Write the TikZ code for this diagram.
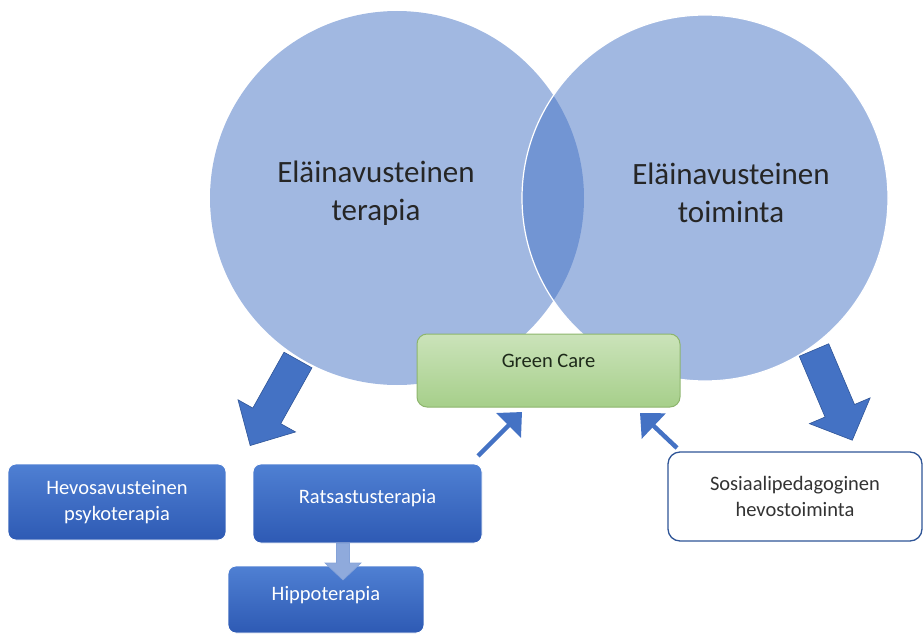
\documentclass[tikz,border=0pt]{standalone}
\usepackage{fontspec}
\setmainfont{Carlito}
\usetikzlibrary{arrows.meta}

\definecolor{accent}{HTML}{4472C4}
\definecolor{accentdark}{HTML}{2F5597}
\definecolor{boxtop}{HTML}{4F80D3}
\definecolor{boxbot}{HTML}{2E5AB4}
\definecolor{greentop}{HTML}{CBE3BA}
\definecolor{greenbot}{HTML}{A6CF8A}
\definecolor{greenline}{HTML}{8DB56D}
\definecolor{greentext}{HTML}{1E2A1A}
\definecolor{paleblue}{HTML}{8FAADC}

\begin{document}
\begin{tikzpicture}[
    x=1pt, y=-1pt,
    every node/.style={font=\fontsize{20.5}{26}\selectfont, align=center},
    >=Triangle,
    circ/.style={fill=accent, fill opacity=0.5},
    bigtext/.style={font=\fontsize{31}{37.5}\selectfont, text=black!85},
    bluebox/.style={rounded corners=8pt, top color=boxtop, bottom color=boxbot,
        draw=white, line width=0.8pt, text=white, inner sep=0pt},
    greenbox/.style={rounded corners=10pt, top color=greentop, bottom color=greenbot,
        draw=greenline, line width=1pt, text=greentext, inner sep=0pt},
    whitebox/.style={rounded corners=12pt, fill=white, draw=accentdark,
        line width=1.3pt, text=black!80, inner sep=0pt},
    blockarrow/.style={fill=accent, draw=accentdark, line width=0.6pt},
    thinarrow/.style={->, draw=accent, line width=4.5pt,
        -{Triangle[length=19pt, width=34pt]}},
]

\useasboundingbox (0,0) rectangle (924,634);

% === Two overlapping circles ===
\def\rL{187}      % left radius
\def\rR{183}      % right radius
\fill[circ] (397,198) circle (\rL);
\fill[circ] (705,198) circle (\rR);
\draw[white, line width=1.2pt] (705,198) circle (\rR);

\node[bigtext] (terapia) at (376,193) {Eläinavusteinen\\terapia};
\node[bigtext] (toiminta) at (731,193) {Eläinavusteinen\\toiminta};

% === Green Care (over the circles) ===
\node[greenbox, minimum width=263pt, minimum height=73pt, text depth=19pt]
    (gc) at (548.5,370.5) {Green Care};

% === Big block arrows out of the circles ===
% shaft half width 16, head half width 33, head from 64 to tip
\begin{scope}[shift={(298,360)}, rotate=240.8]
    \draw[blockarrow] (0,-16) -- (64,-16) -- (64,-33) -- (98,0)
        -- (64,33) -- (64,16) -- (0,16) -- cycle;
\end{scope}
\begin{scope}[shift={(814,350)}, rotate=-67]
    \draw[blockarrow] (0,-16) -- (66,-16) -- (66,-33) -- (98,0)
        -- (66,33) -- (66,16) -- (0,16) -- cycle;
\end{scope}

% === Boxes at the bottom ===
\node[bluebox, minimum width=218pt, minimum height=76pt]
    (hevos) at (117,502) {Hevosavusteinen\\psykoterapia};
\node[bluebox, minimum width=229pt, minimum height=79pt, text depth=14pt]
    (ratsastus) at (367.5,503.5) {Ratsastusterapia};
\node[bluebox, minimum width=196pt, minimum height=67pt, text depth=12pt]
    (hippo) at (326,599.5) {Hippoterapia};
\node[whitebox, minimum width=254pt, minimum height=89pt]
    (sosiaali) at (795,496.5) {Sosiaalipedagoginen\\hevostoiminta};

% === Small arrow Ratsastusterapia -> Hippoterapia ===
\fill[paleblue, draw=paleblue!85!accent, line width=0.6pt]
    (336.5,543.5) -- (349.5,543.5) -- (349.5,563) -- (361,563) -- (343,580)
    -- (325,563) -- (336.5,563) -- cycle;

% === Arrows into Green Care ===
\coordinate (fromRat) at (478,456);
\coordinate (toGcL) at (522,412);
\coordinate (fromSos) at (677,448);
\coordinate (toGcR) at (640,413);
\draw[thinarrow] (fromRat) -- (toGcL);
\draw[thinarrow] (fromSos) -- (toGcR);

\end{tikzpicture}
\end{document}
